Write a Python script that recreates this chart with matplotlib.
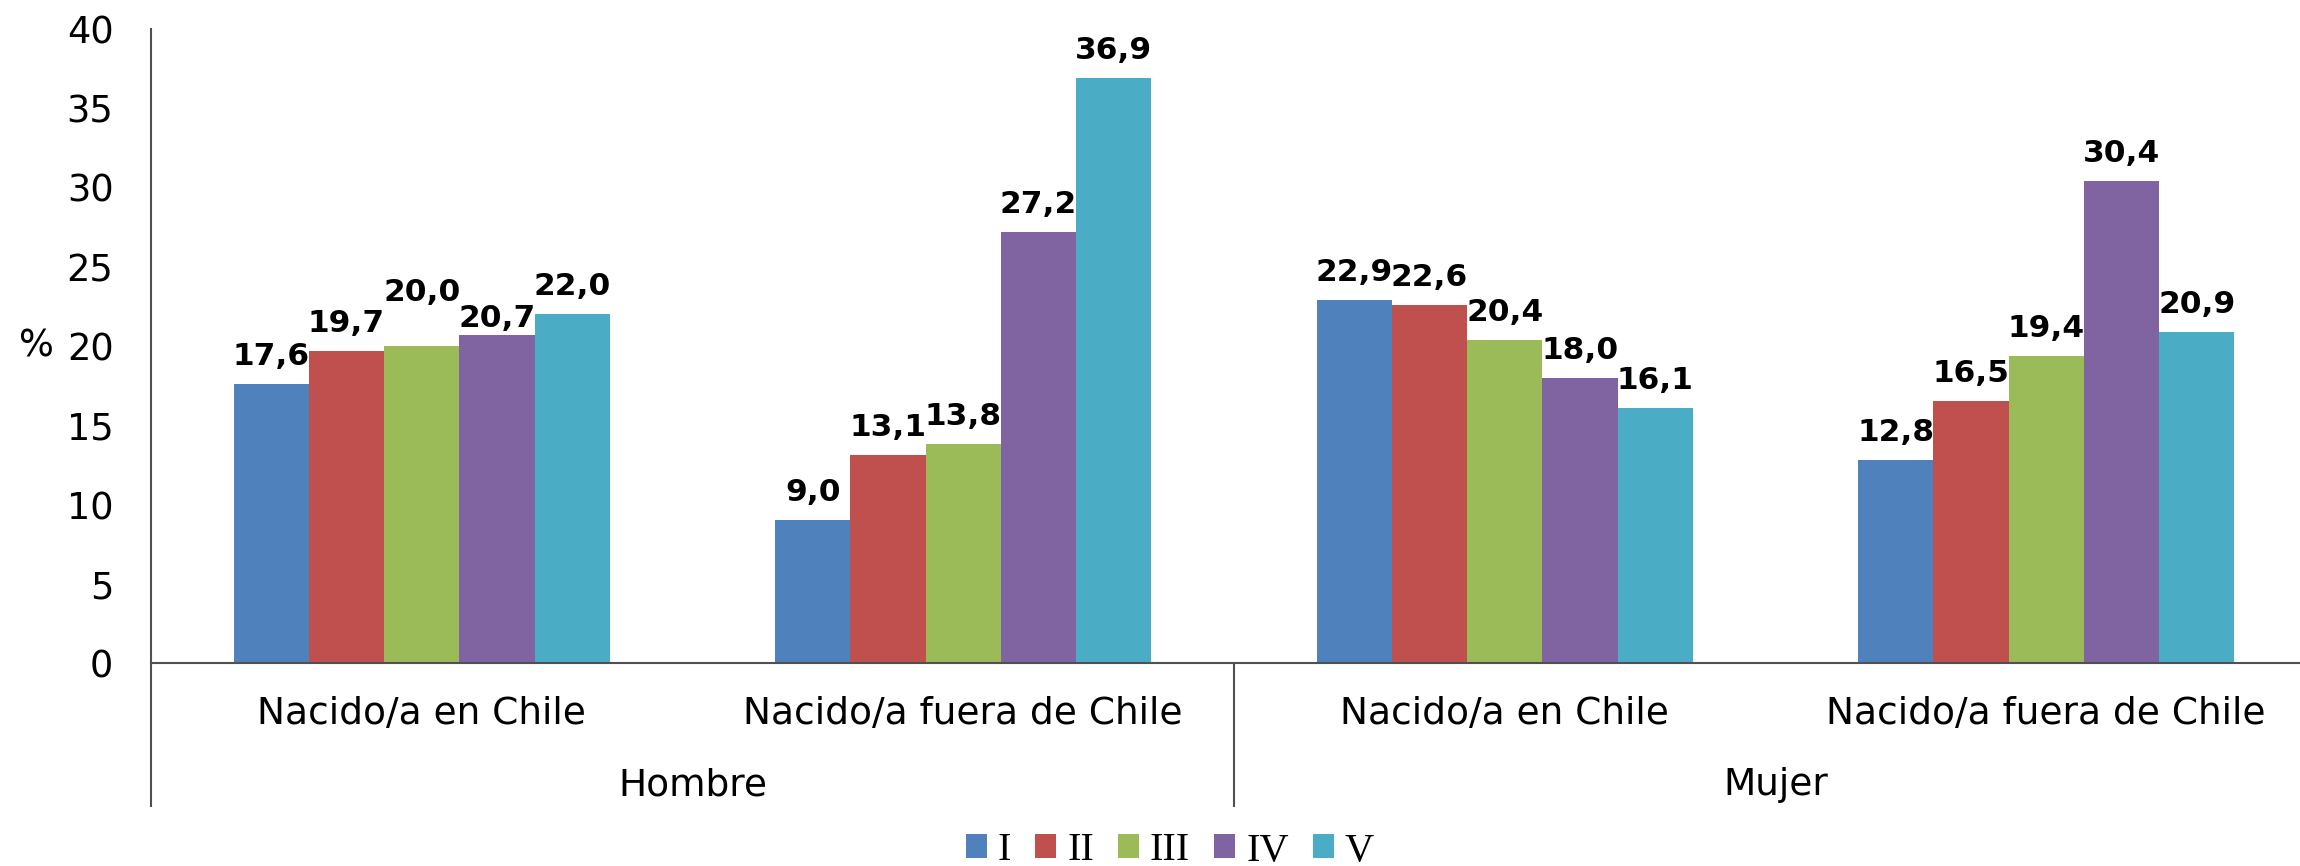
import matplotlib
matplotlib.use("Agg")
import matplotlib.pyplot as plt
import numpy as np

categories = ["Nacido/a en Chile", "Nacido/a fuera de Chile",
              "Nacido/a en Chile", "Nacido/a fuera de Chile"]
groups = ["Hombre", "Mujer"]
series_names = ["I", "II", "III", "IV", "V"]
vals_I = [17.6, 9.0, 22.9, 12.8]
vals_II = [19.7, 13.1, 22.6, 16.5]
vals_III = [20.0, 13.8, 20.4, 19.4]
vals_IV = [20.7, 27.2, 18.0, 30.4]
vals_V = [22.0, 36.9, 16.1, 20.9]
yticks = [0, 5, 10, 15, 20, 25, 30, 35, 40]

series = [vals_I, vals_II, vals_III, vals_IV, vals_V]
colors = ["#4F81BD", "#C0504D", "#9BBB59", "#8064A2", "#4BACC6"]

# label layout tweaks (pixels) mimicking the original placement
extra_offset = {(2, 0): 26, (3, 0): -11}

plt.rcParams['font.family'] = ['DejaVu Sans']
W, H = 2300, 866
fig = plt.figure(figsize=(W / 100, H / 100), dpi=100)
left = 151 / W
right = 2317 / W
bottom = 1 - 663 / H
top = 1 - 29 / H
ax = fig.add_axes([left, bottom, right - left, top - bottom])

x = np.arange(len(categories))
w = 0.139
axis_color = "#505050"
FS = 26.5
FSC = 27
for i, (name, vals, c) in enumerate(zip(series_names, series, colors)):
    pos = x + (i - 2) * w
    ax.bar(pos, vals, width=w, color=c, label=name, edgecolor="none", zorder=2)
    for j, (p, v) in enumerate(zip(pos, vals)):
        off = 19 + extra_offset.get((i, j), 0)
        ax.annotate(f"{v:.1f}".replace(".", ","), (p, v), xytext=(0, off),
                    textcoords="offset pixels", ha="center", va="baseline",
                    fontsize=22.5, fontweight="bold", color="black")

ax.set_xlim(-0.5, 3.5)
ax.set_ylim(0, 40)
ax.set_yticks(yticks)
ax.set_yticklabels([str(t) for t in yticks])
ax.tick_params(axis="y", length=0, pad=27, labelsize=FS)
ax.set_xticks([])
for s in ["top", "right"]:
    ax.spines[s].set_visible(False)
for s in ["left", "bottom"]:
    ax.spines[s].set_color(axis_color)
    ax.spines[s].set_linewidth(1.5)

axw = (right - left) * W
ax.text(-(151 - 36) / axw, 0.5, "%", transform=ax.transAxes, ha="center",
        va="center", fontsize=FS)

trans = ax.get_xaxis_transform()
ybot = -(807 - 663) / (663 - 29)
for xs in [-0.5, 1.5]:
    ax.plot([xs, xs], [0, ybot], transform=trans, color=axis_color, lw=1.5,
            clip_on=False, solid_capstyle="butt")

ycat = -(714 - 663) / (663 - 29)
for xi, cat in zip(x, categories):
    ax.text(xi, ycat, cat, transform=trans, ha="center", va="center", fontsize=FSC)
ygrp = -(785 - 663) / (663 - 29)
for gi, g in enumerate(groups):
    ax.text(0.5 + 2 * gi, ygrp, g, transform=trans, ha="center", va="center", fontsize=FSC)

leg = fig.legend(loc="center", bbox_to_anchor=(1170 / W, 1 - 851 / H), ncol=5, frameon=False,
                 prop={"family": "Liberation Serif", "size": 29},
                 handlelength=0.52, handleheight=0.52, handletextpad=0.27,
                 columnspacing=0.6, borderaxespad=0)

fig.savefig("out.png", dpi=100)
